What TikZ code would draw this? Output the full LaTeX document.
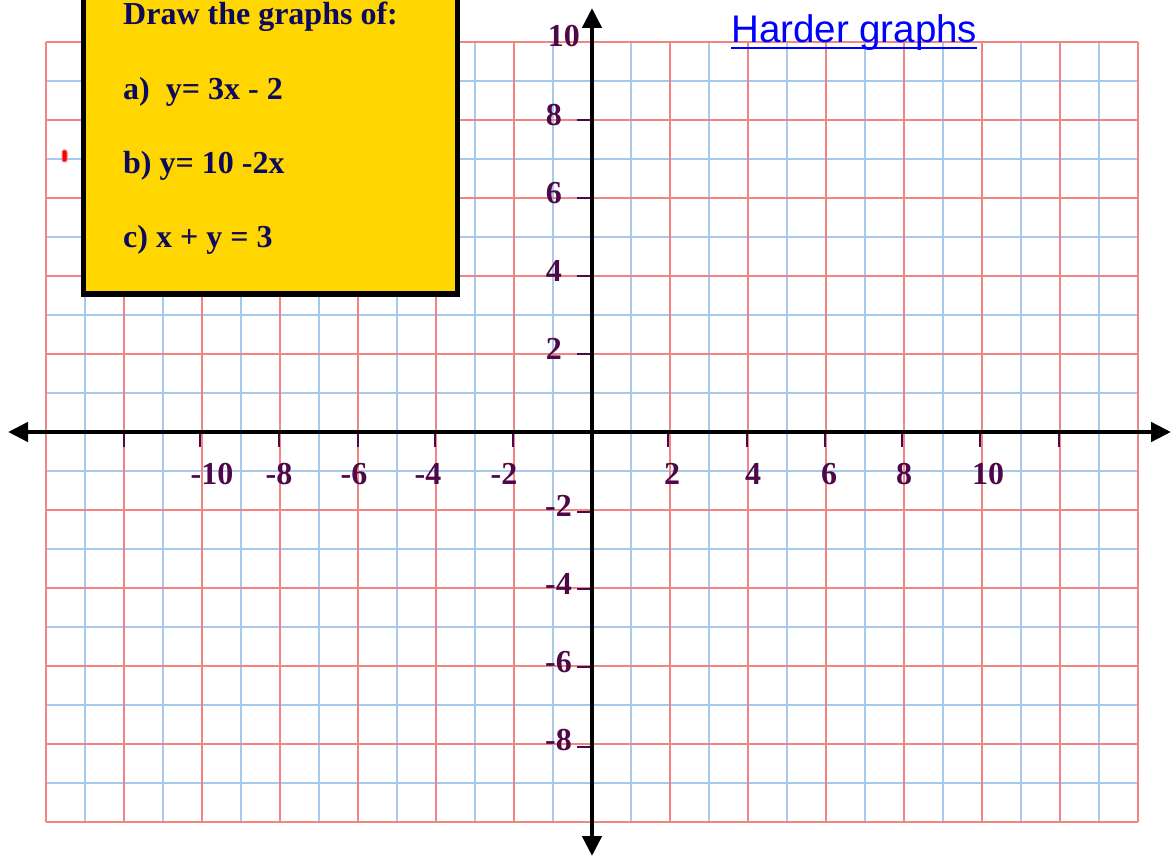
\documentclass[tikz,border=0pt]{standalone}
\usepackage{fontspec}
\setmainfont{Liberation Serif}
\newfontfamily\titlefont{Liberation Sans}
\usetikzlibrary{arrows.meta}
\definecolor{gridred}{RGB}{242,132,132}
\definecolor{gridblue}{RGB}{168,200,236}
\definecolor{boxyellow}{RGB}{255,214,0}
\definecolor{navytext}{RGB}{12,10,92}
\definecolor{labelpurple}{RGB}{78,8,72}
\definecolor{linkblue}{RGB}{0,0,255}
\begin{document}
\begin{tikzpicture}[x=1pt,y=-1pt,
  bluegrid/.style={gridblue,line width=1.6pt},
  redgrid/.style={gridred,line width=1.6pt},
  axisline/.style={line width=4.5pt,{Triangle[length=20pt,width=19pt]}-{Triangle[length=20pt,width=19pt]}},
  tickmark/.style={labelpurple,line width=1.6pt},
  ticklbl/.style={font=\fontsize{32}{34}\selectfont\bfseries,text=labelpurple,inner sep=0pt},
  boxtext/.style={font=\fontsize{32}{36}\selectfont\bfseries,text=navytext,anchor=base west,inner sep=0pt}
]
\useasboundingbox[fill=white] (0,0) rectangle (1173,858);
% grid
\foreach \i in {1,3,...,27} \draw[bluegrid] (46+39*\i,42) -- (46+39*\i,822);
\foreach \j in {1,3,...,19} \draw[bluegrid] (46,42+39*\j) -- (1138,42+39*\j);
\foreach \i in {0,2,...,28} \draw[redgrid] (46+39*\i,42) -- (46+39*\i,822);
\foreach \j in {0,2,...,20} \draw[redgrid] (46,42+39*\j) -- (1138,42+39*\j);
% small red mark
\draw[gridred,fill=red,rounded corners=2pt,line width=1pt] (62,150) rectangle (67,162);
% x ticks
\foreach \x in {124,200,279,358,435,513,668,747,825,902,980,1059}
  \draw[tickmark] (\x,432) -- (\x,447);
% y ticks
\foreach \y in {120,198,276,354,512,589,667,747}
  \draw[tickmark] (577,\y) -- (592,\y);
% axes
\coordinate (xl) at (8,432);
\coordinate (xr) at (1171,432);
\coordinate (yt) at (592,8);
\coordinate (yb) at (592,856);
\draw[axisline] (xl) -- (xr);
\draw[axisline] (yb) -- (yt);
% x labels
\node[ticklbl,anchor=base] (xm10) at (212,485) {-10};
\node[ticklbl,anchor=base] (xm8) at (279,485) {-8};
\node[ticklbl,anchor=base] (xm6) at (354,485) {-6};
\node[ticklbl,anchor=base] (xm4) at (428,485) {-4};
\node[ticklbl,anchor=base] (xm2) at (504,485) {-2};
\node[ticklbl,anchor=base] (xp2) at (672,485) {2};
\node[ticklbl,anchor=base] (xp4) at (753,485) {4};
\node[ticklbl,anchor=base] (xp6) at (829,485) {6};
\node[ticklbl,anchor=base] (xp8) at (904,485) {8};
\node[ticklbl,anchor=base] (xp10) at (988,485) {10};
% y labels
\node[ticklbl,anchor=base east] (yp10) at (580,47) {10};
\node[ticklbl,anchor=base east] (yp8) at (562,126) {8};
\node[ticklbl,anchor=base east] (yp6) at (562,204) {6};
\node[ticklbl,anchor=base east] (yp4) at (562,282) {4};
\node[ticklbl,anchor=base east] (yp2) at (562,360) {2};
\node[ticklbl,anchor=base east] (ym2) at (572,516) {-2};
\node[ticklbl,anchor=base east] (ym4) at (572,594) {-4};
\node[ticklbl,anchor=base east] (ym6) at (572,672) {-6};
\node[ticklbl,anchor=base east] (ym8) at (572,750) {-8};
% yellow box
\draw[black,fill=boxyellow,line width=5.5pt] (83.5,-10) rectangle (457.5,294);
\node[boxtext] (q0) at (123,25) {Draw the graphs of:};
\node[boxtext] (qa) at (123,100) {a)~ y= 3x - 2};
\node[boxtext] (qb) at (123,174) {b) y= 10 -2x};
\node[boxtext] (qc) at (123,248) {c) x + y = 3};
% title
\node[font=\titlefont\fontsize{38.5}{40}\selectfont,text=linkblue,anchor=base west,inner sep=0pt] (title) at (731,43) {Harder graphs};
\draw[linkblue,line width=2pt] (title.base west) ++(0,5) -- ++(246,0);
\end{tikzpicture}
\end{document}
